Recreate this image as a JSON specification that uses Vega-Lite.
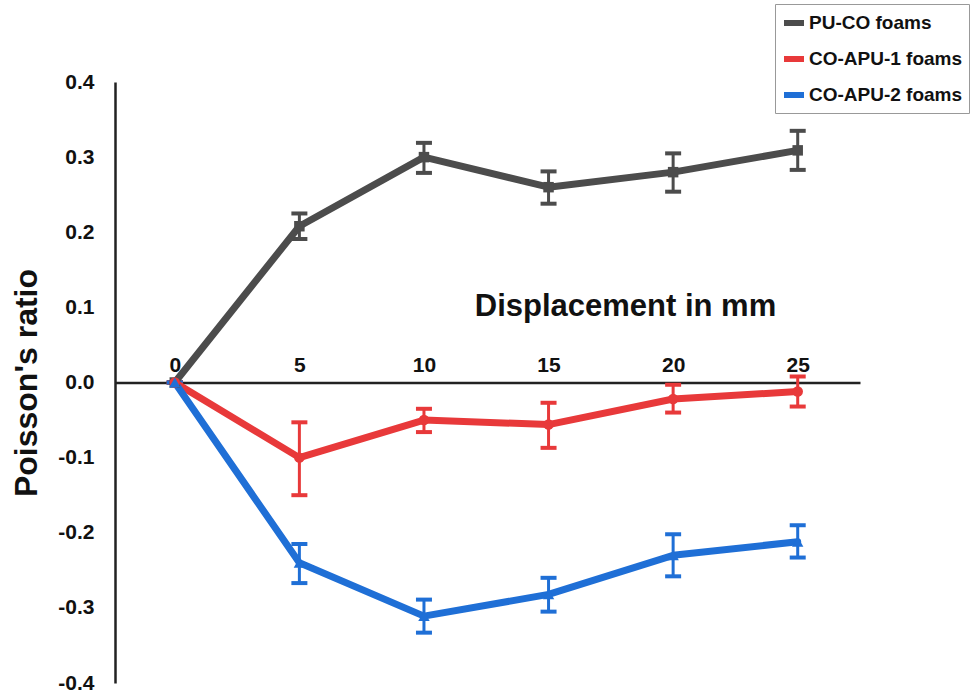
{
  "$schema": "https://vega.github.io/schema/vega-lite/v6.json",
  "autosize": {"type": "none"},
  "padding": {"left": 115, "top": 82, "right": 114, "bottom": 12},
  "width": 745,
  "height": 601,
  "background": "white",
  "config": {
    "view": {"stroke": null},
    "font": "Liberation Sans",
    "axis": {"grid": false, "ticks": false, "domainColor": "#222", "domainWidth": 2.5, "labelFont": "Liberation Sans", "labelFontWeight": "bold", "labelColor": "#111", "titleFont": "Liberation Sans", "titleFontWeight": "bold", "titleColor": "#111"}
  },
  "data": {
    "values": [
      {"series": "PU-CO foams", "x": 0, "y": 0, "lo": 0, "hi": 0},
      {"series": "PU-CO foams", "x": 5, "y": 0.208, "lo": 0.191, "hi": 0.225},
      {"series": "PU-CO foams", "x": 10, "y": 0.300, "lo": 0.279, "hi": 0.319},
      {"series": "PU-CO foams", "x": 15, "y": 0.260, "lo": 0.238, "hi": 0.281},
      {"series": "PU-CO foams", "x": 20, "y": 0.280, "lo": 0.254, "hi": 0.305},
      {"series": "PU-CO foams", "x": 25, "y": 0.309, "lo": 0.283, "hi": 0.335},
      {"series": "CO-APU-1 foams", "x": 0, "y": 0, "lo": 0, "hi": 0},
      {"series": "CO-APU-1 foams", "x": 5, "y": -0.100, "lo": -0.150, "hi": -0.053},
      {"series": "CO-APU-1 foams", "x": 10, "y": -0.050, "lo": -0.066, "hi": -0.035},
      {"series": "CO-APU-1 foams", "x": 15, "y": -0.056, "lo": -0.087, "hi": -0.027},
      {"series": "CO-APU-1 foams", "x": 20, "y": -0.022, "lo": -0.040, "hi": -0.003},
      {"series": "CO-APU-1 foams", "x": 25, "y": -0.012, "lo": -0.032, "hi": 0.008},
      {"series": "CO-APU-2 foams", "x": 0, "y": 0, "lo": 0, "hi": 0},
      {"series": "CO-APU-2 foams", "x": 5, "y": -0.240, "lo": -0.267, "hi": -0.215},
      {"series": "CO-APU-2 foams", "x": 10, "y": -0.311, "lo": -0.333, "hi": -0.289},
      {"series": "CO-APU-2 foams", "x": 15, "y": -0.282, "lo": -0.305, "hi": -0.260},
      {"series": "CO-APU-2 foams", "x": 20, "y": -0.230, "lo": -0.258, "hi": -0.202},
      {"series": "CO-APU-2 foams", "x": 25, "y": -0.212, "lo": -0.233, "hi": -0.190}
    ]
  },
  "encoding": {
    "x": {
      "field": "x", "type": "quantitative",
      "scale": {"domain": [-2.4, 27.5], "nice": false, "zero": false},
      "axis": {"orient": "top", "offset": -300.5, "values": [0, 5, 10, 15, 20, 25], "labelFontSize": 21, "labelPadding": 7, "title": "Displacement in mm", "titleFontSize": 31, "titleX": 510, "titleY": -60, "titleAlign": "center", "titleBaseline": "bottom"}
    },
    "color": {
      "field": "series", "type": "nominal",
      "scale": {"domain": ["PU-CO foams", "CO-APU-1 foams", "CO-APU-2 foams"], "range": ["#4c4c4c", "#e8393a", "#1f6fd6"]},
      "legend": {
        "orient": "none", "legendX": 660, "legendY": -78, "title": null,
        "symbolType": "stroke", "symbolStrokeWidth": 6, "symbolSize": 400, "symbolOpacity": 1,
        "labelFontSize": 19, "labelFontWeight": "bold", "labelColor": "#111", "labelFont": "Liberation Sans", "labelLimit": 0,
        "rowPadding": 11, "padding": 6, "strokeColor": "#999", "fillColor": "white", "labelOffset": 2
      }
    }
  },
  "layer": [
    {
      "mark": {"type": "rule", "strokeWidth": 3},
      "encoding": {
        "y": {"field": "lo", "type": "quantitative", "scale": {"domain": [-0.4, 0.4], "nice": false}, "axis": {"values": [-0.4, -0.3, -0.2, -0.1, 0, 0.1, 0.2, 0.3, 0.4], "labelExpr": "replace(format(datum.value, '.1f'), '\u2212', '-')", "labelFontSize": 21, "labelPadding": 21, "title": "Poisson's ratio", "titleFontSize": 32, "titlePadding": 14}},
        "y2": {"field": "hi"}
      }
    },
    {
      "mark": {"type": "tick", "thickness": 4, "size": 16, "orient": "horizontal", "opacity": 1},
      "encoding": {"y": {"field": "lo", "type": "quantitative"}}
    },
    {
      "mark": {"type": "tick", "thickness": 4, "size": 16, "orient": "horizontal", "opacity": 1},
      "encoding": {"y": {"field": "hi", "type": "quantitative"}}
    },
    {
      "mark": {"type": "line", "strokeWidth": 7, "strokeCap": "round", "strokeJoin": "round"},
      "encoding": {"y": {"field": "y", "type": "quantitative"}}
    },
    {
      "transform": [{"filter": "datum.series == 'PU-CO foams'"}],
      "mark": {"type": "point", "shape": "square", "filled": true, "opacity": 1, "size": 110},
      "encoding": {"y": {"field": "y", "type": "quantitative"}}
    },
    {
      "transform": [{"filter": "datum.series == 'CO-APU-1 foams'"}],
      "mark": {"type": "point", "shape": "circle", "filled": true, "opacity": 1, "size": 110},
      "encoding": {"y": {"field": "y", "type": "quantitative"}}
    },
    {
      "transform": [{"filter": "datum.series == 'CO-APU-2 foams'"}],
      "mark": {"type": "point", "shape": "triangle-up", "filled": true, "opacity": 1, "size": 130},
      "encoding": {"y": {"field": "y", "type": "quantitative"}}
    }
  ]
}
